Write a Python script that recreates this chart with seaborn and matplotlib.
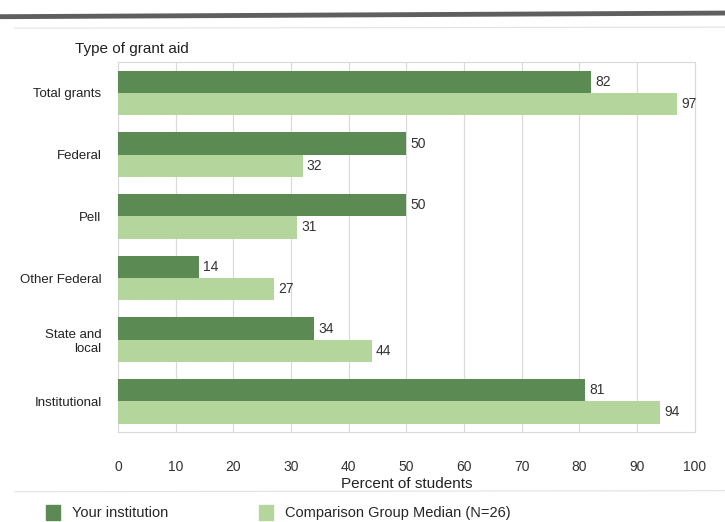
import matplotlib
matplotlib.use("Agg")
import matplotlib.pyplot as plt
from matplotlib.lines import Line2D
import pandas as pd
import seaborn as sns

# --- data ---
categories = ["Total grants", "Federal", "Pell", "Other Federal", "State and\nlocal", "Institutional"]
your_institution = [82, 50, 50, 14, 34, 81]
comparison_median = [97, 32, 31, 27, 44, 94]
series_names = ["Your institution", "Comparison Group Median (N=26)"]
x_ticks = [0, 10, 20, 30, 40, 50, 60, 70, 80, 90, 100]

DARK = "#5b8b52"
LIGHT = "#b4d59c"

df = pd.DataFrame({
    "category": categories * 2,
    "value": your_institution + comparison_median,
    "series": [series_names[0]] * len(categories) + [series_names[1]] * len(categories),
})

sns.set_style("white")
plt.rcParams["font.family"] = ["Liberation Sans", "DejaVu Sans"]

fig = plt.figure(figsize=(7.25, 5.22), dpi=100)
ax = fig.add_axes([0.163, 0.172, 0.795, 0.709])

sns.barplot(data=df, y="category", x="value", hue="series", orient="h",
            palette=[DARK, LIGHT], width=0.72, ax=ax, saturation=1,
            legend=False, linewidth=0, zorder=3)

for cont in ax.containers:
    ax.bar_label(cont, fmt="%d", padding=3, fontsize=10, color="#333333")

ax.set_xlim(0, 100)
ax.set_xticks(x_ticks)
ax.set_yticks(range(len(categories)))
ax.set_yticklabels(categories, multialignment="right")
ax.grid(axis="x", color="#d9d9d9", linewidth=0.8, zorder=0)
ax.set_axisbelow(True)
for side in ["top", "right", "left", "bottom"]:
    ax.spines[side].set_color("#d9d9d9")
    ax.spines[side].set_linewidth(0.8)

ax.tick_params(axis="x", length=6, color="#d9d9d9", pad=14, labelsize=10, labelcolor="#333333")
ax.tick_params(axis="y", length=0, pad=12, labelsize=9.5, labelcolor="#222222")
ax.set_ylabel("")
ax.set_xlabel("Percent of students", fontsize=11, color="#222222", labelpad=2)

fig.text(0.104, 0.898, "Type of grant aid", fontsize=11, color="#222222")

# frame lines from the report page
fig.add_artist(Line2D([0.0, 1.0], [0.968, 0.975], color="#5f5f5f", linewidth=3.5))
fig.add_artist(Line2D([0.02, 1.0], [0.946, 0.948], color="#e2e2e2", linewidth=0.8))
fig.add_artist(Line2D([0.02, 1.0], [0.058, 0.060], color="#e2e2e2", linewidth=0.8))

handles = [plt.Rectangle((0, 0), 1, 1, color=DARK), plt.Rectangle((0, 0), 1, 1, color=LIGHT)]
fig.legend(handles, series_names, loc="lower left", bbox_to_anchor=(0.045, -0.022),
           ncol=2, frameon=False, fontsize=10.5, handlelength=1.0, handleheight=1.2,
           columnspacing=6.2, handletextpad=0.8)

fig.savefig("out.png", dpi=100)
plt.close(fig)
